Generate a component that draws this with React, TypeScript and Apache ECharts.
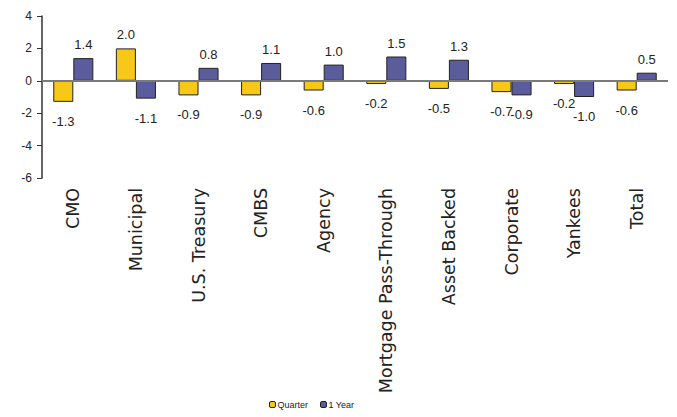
import React, { useEffect, useRef } from "react";
import * as echarts from "echarts";

const categories = ["CMO", "Municipal", "U.S. Treasury", "CMBS", "Agency", "Mortgage Pass-Through", "Asset Backed", "Corporate", "Yankees", "Total"];
const quarter = [-1.3, 2.0, -0.9, -0.9, -0.6, -0.2, -0.5, -0.7, -0.2, -0.6];
const oneYear = [1.4, -1.1, 0.8, 1.1, 1.0, 1.5, 1.3, -0.9, -1.0, 0.5];
const seriesNames = ["Quarter", "1 Year"];

function items(vals: number[]) {
  return vals.map((v) => ({
    value: v,
    label: { position: v >= 0 ? "top" : "bottom", distance: v >= 0 ? 7 : 13 },
  }));
}

export default function App() {
  const ref = useRef<HTMLDivElement>(null);
  useEffect(() => {
    const chart = echarts.init(ref.current!, null, { renderer: "svg" });
    const labelStyle = {
      show: true,
      formatter: (p: any) => Number(p.value).toFixed(1),
      color: "#222",
      fontSize: 13,
      fontFamily: "Arial",
    };
    chart.setOption({
      animation: false,
      backgroundColor: "#fff",
      grid: { left: 42, right: 9, top: 16, bottom: 239 },
      legend: {
        bottom: 3,
        left: 264,
        itemWidth: 6,
        itemHeight: 6,
        itemGap: 12,
        itemStyle: { borderColor: "#222", borderWidth: 1 },
        textStyle: { fontSize: 9, fontFamily: "Arial", color: "#222", padding: [0, 0, 0, -3] },
        data: seriesNames,
      },
      xAxis: {
        type: "category",
        data: categories,
        axisLine: { show: false, onZero: false },
        axisTick: { show: false },
        axisLabel: {
          rotate: 90,
          interval: 0,
          margin: 10,
          fontSize: 17.5,
          fontFamily: "DejaVu Sans",
          color: "#222",
        },
      },
      yAxis: {
        type: "value",
        min: -6,
        max: 4,
        interval: 2,
        splitLine: { show: false },
        axisLine: { show: true, lineStyle: { color: "#333", width: 1.5 } },
        axisTick: { show: true, length: 5, lineStyle: { color: "#333" } },
        axisLabel: { fontSize: 12, fontFamily: "Arial", color: "#222", margin: 10 },
      },
      series: [
        {
          name: seriesNames[0],
          type: "bar",
          data: items(quarter),
          barGap: "0%",
          barCategoryGap: "36%",
          itemStyle: { color: "#F7C817", borderColor: "#222", borderWidth: 1 },
          label: labelStyle,
          markLine: {
            silent: true,
            symbol: "none",
            label: { show: false },
            lineStyle: { color: "#7a7a7a", width: 2, type: "solid" },
            data: [{ yAxis: 0 }],
          },
        },
        {
          name: seriesNames[1],
          type: "bar",
          data: items(oneYear),
          barGap: "0%",
          barCategoryGap: "36%",
          itemStyle: { color: "#5B5C9C", borderColor: "#222", borderWidth: 1 },
          label: labelStyle,
        },
      ],
    });
    return () => chart.dispose();
  }, []);
  return <div ref={ref} style={{ width: 677, height: 417, position: "absolute", left: 0, top: 0 }} />;
}
